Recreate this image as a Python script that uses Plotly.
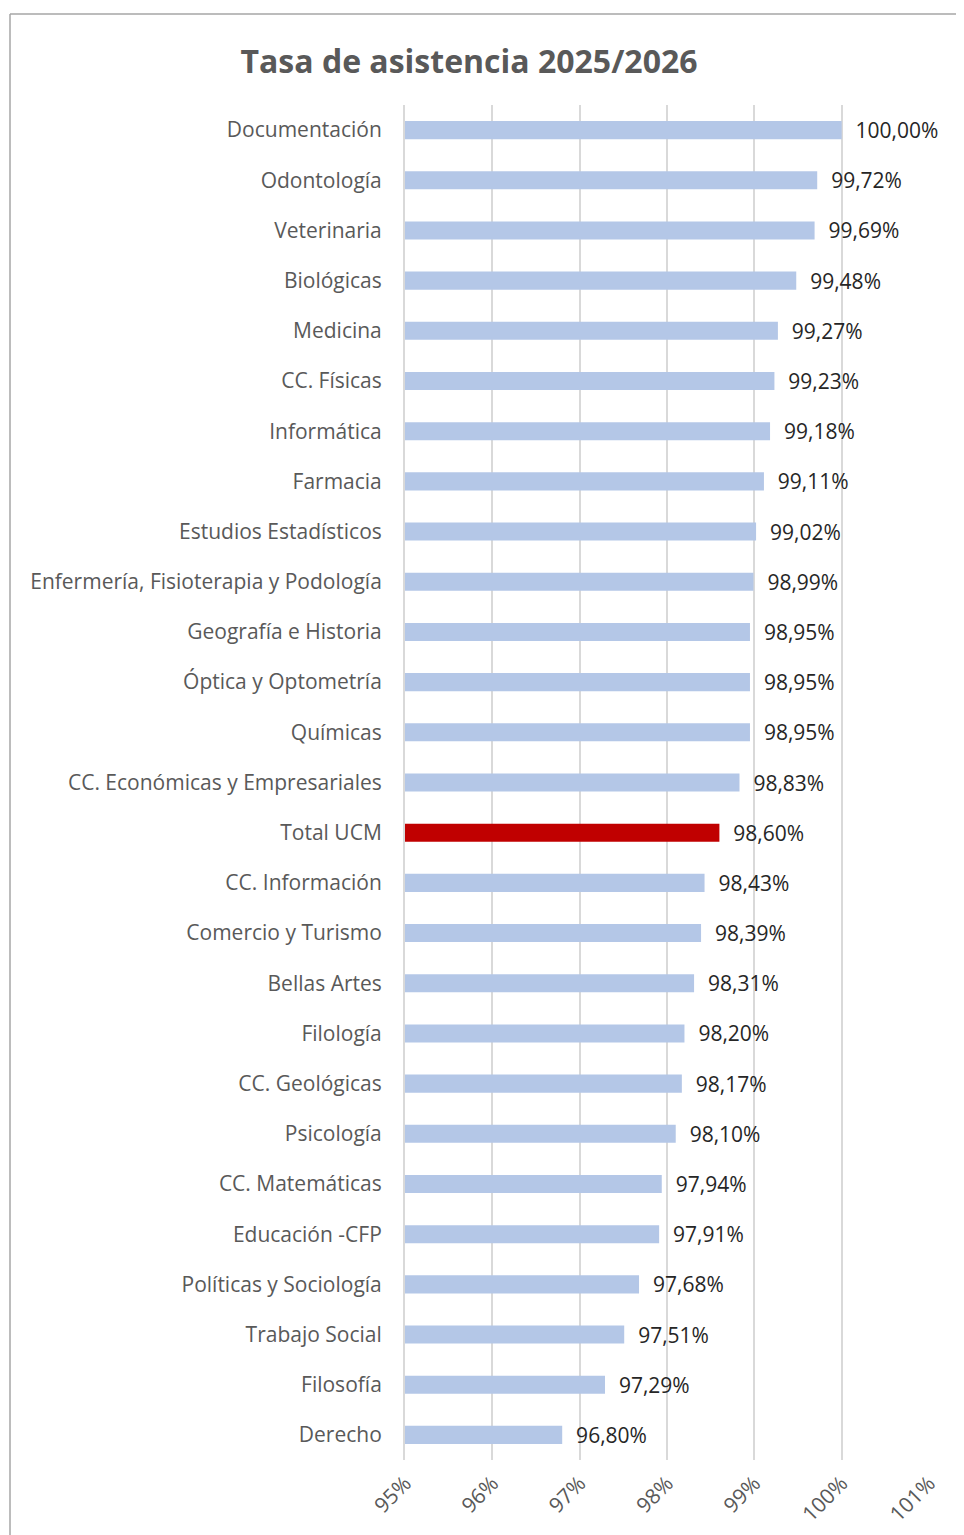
import plotly.graph_objects as go

# Datos: facultades y tasa de asistencia (%)
facultades = [
    "Documentación", "Odontología", "Veterinaria", "Biológicas", "Medicina",
    "CC. Físicas", "Informática", "Farmacia", "Estudios Estadísticos",
    "Enfermería, Fisioterapia y Podología", "Geografía e Historia",
    "Óptica y Optometría", "Químicas", "CC. Económicas y Empresariales",
    "Total UCM", "CC. Información", "Comercio y Turismo", "Bellas Artes",
    "Filología", "CC. Geológicas", "Psicología", "CC. Matemáticas",
    "Educación -CFP", "Políticas y Sociología", "Trabajo Social",
    "Filosofía", "Derecho",
]
tasa = [
    100.00, 99.72, 99.69, 99.48, 99.27, 99.23, 99.18, 99.11, 99.02,
    98.99, 98.95, 98.95, 98.95, 98.83, 98.60, 98.43, 98.39, 98.31,
    98.20, 98.17, 98.10, 97.94, 97.91, 97.68, 97.51, 97.29, 96.80,
]
ticks_x = [95, 96, 97, 98, 99, 100, 101]

colores = ["#c00000" if f == "Total UCM" else "#b4c7e7" for f in facultades]
etiquetas = ["\u00a0\u00a0" + f"{v:.2f}%".replace(".", ",") for v in tasa]

FUENTE = "Open Sans, Noto Sans, sans-serif"

fig = go.Figure(go.Bar(
    x=tasa, y=facultades, orientation="h",
    marker=dict(color=colores, line=dict(width=0)),
    text=etiquetas, textposition="outside", cliponaxis=False,
    constraintext="none",
    textfont=dict(family=FUENTE, size=21, color="#262626"),
))

# La página tiene 8 px de margen: la figura empieza en (8, 8)
OFF = 8
W, H = 964 - OFF, 1535 - OFF
L, R, T, B = 405 - OFF, 35, 105 - OFF, 75
px_x = lambda p: (p - OFF - L) / (W - L - R)
px_y = lambda p: (H - B - (p - OFF)) / (H - T - B)

fig.update_layout(
    width=W, height=H,
    margin=dict(l=L, r=R, t=T, b=B, autoexpand=False),
    plot_bgcolor="white", paper_bgcolor="white",
    bargap=0.64, showlegend=False,
    font=dict(family=FUENTE, color="#595959"),
    title=dict(text="<b>Tasa de asistencia 2025/2026</b>",
               x=(469 - OFF) / W, y=1 - (62 - OFF) / H,
               xref="container", yref="container",
               xanchor="center", yanchor="middle",
               font=dict(size=32, color="#595959")),
    xaxis=dict(range=[95, 101], tickvals=ticks_x,
               ticktext=[f"{t}%" for t in ticks_x], tickangle=-45,
               showgrid=True, gridcolor="#d9d9d9", gridwidth=2,
               zeroline=False, showline=False, ticklabelstandoff=6,
               automargin=False,
               tickfont=dict(size=21, color="#595959")),
    yaxis=dict(autorange="reversed", showgrid=False, automargin=False,
               showline=True, linecolor="#d9d9d9", linewidth=2,
               ticklabelstandoff=17, tickfont=dict(size=21, color="#595959")),
    shapes=[
        dict(type="line", xref="paper", yref="paper",
             x0=px_x(10), x1=px_x(10), y0=px_y(14), y1=px_y(1545),
             line=dict(color="#a6a6a6", width=1.5)),
        dict(type="line", xref="paper", yref="paper",
             x0=px_x(10), x1=px_x(975), y0=px_y(14), y1=px_y(14),
             line=dict(color="#a6a6a6", width=1.5)),
    ],
)

fig.write_html("out.html")
